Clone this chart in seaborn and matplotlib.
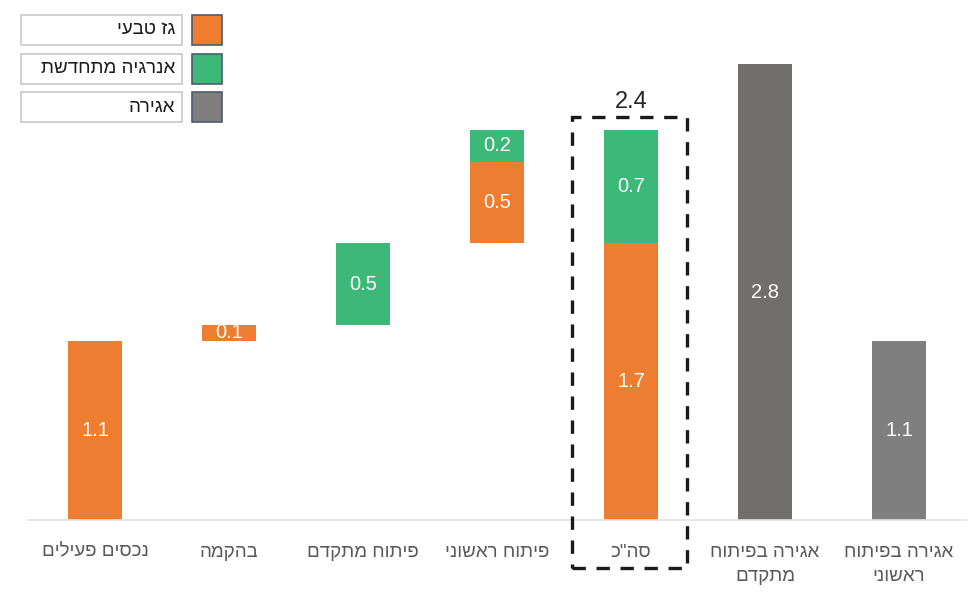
import matplotlib
matplotlib.use("Agg")
import matplotlib.pyplot as plt
from matplotlib.patches import Rectangle
import seaborn as sns

# --- data -------------------------------------------------------------
categories = [
    "נכסים פעילים",
    "בהקמה",
    "פיתוח מתקדם",
    "פיתוח ראשוני",
    'סה"כ',
    "אגירה בפיתוח\nמתקדם",
    "אגירה בפיתוח\nראשוני",
]
gas = [1.1, 0.1, 0.0, 0.5, 1.7, 0.0, 0.0]
renewable = [0.0, 0.0, 0.5, 0.2, 0.7, 0.0, 0.0]
storage = [0.0, 0.0, 0.0, 0.0, 0.0, 2.8, 1.1]
storage_colors = ["#716E6D", "#7F7F7F", "#7F7F7F", "#7F7F7F", "#7F7F7F", "#716E6D", "#7F7F7F"]
legend_labels = ["גז טבעי", "אנרגיה מתחדשת", "אגירה"]
total_label = "2.4"

ORANGE = "#ED7D31"
GREEN = "#3CB878"
GRAY = "#7F7F7F"
TOTAL_INDEX = 4
N_STEPS = 4


def rtl(text):
    """Reverse each line so Hebrew reads right-to-left."""
    return "\n".join(line[::-1] for line in text.split("\n"))


# --- segment table (category, bottom, height, colour) -----------------
segments = []
running = 0.0
for i in range(N_STEPS):
    if gas[i] > 0:
        segments.append((i, running, gas[i], ORANGE))
    if renewable[i] > 0:
        segments.append((i, running + gas[i], renewable[i], GREEN))
    running += gas[i] + renewable[i]
segments.append((TOTAL_INDEX, 0.0, gas[TOTAL_INDEX], ORANGE))
segments.append((TOTAL_INDEX, gas[TOTAL_INDEX], renewable[TOTAL_INDEX], GREEN))
for i, v in enumerate(storage):
    if v > 0:
        segments.append((i, 0.0, v, storage_colors[i]))

# --- figure -----------------------------------------------------------
sns.set_theme(style="white")
plt.rcParams["font.family"] = ["Liberation Sans", "DejaVu Sans"]

W, H = 978, 592
fig = plt.figure(figsize=(W / 100, H / 100), dpi=100)
ax = fig.add_axes([28 / W, (H - 520) / H, 938 / W, 505 / H])

order = list(range(len(categories)))
for idx, bottom, height, color in segments:
    sns.barplot(
        x=[idx], y=[height], order=order, color=color, width=0.4,
        errorbar=None, bottom=bottom, ax=ax, saturation=1,
        linewidth=0,
    )
    ax.text(idx, bottom + height / 2, f"{height:.1f}", ha="center",
            va="center", color="white", fontsize=14.5)

ax.set_xlim(-0.5, len(categories) - 0.5)
ax.set_ylim(0, 505 / 162.7)
ax.set_xticks(order)
ax.set_xticklabels([rtl(c) for c in categories], color="#595959",
                   fontsize=13.5, linespacing=1.55)
ax.tick_params(axis="x", length=0, pad=17)
ax.set_yticks([])
ax.set_xlabel("")
ax.set_ylabel("")
for side in ["top", "right", "left"]:
    ax.spines[side].set_visible(False)
ax.spines["bottom"].set_color("#E3E3E3")
ax.spines["bottom"].set_linewidth(1.2)

# dashed frame around the total column
fig.add_artist(Rectangle((572 / W, (H - 568) / H), 115 / W, 451 / H,
                         transform=fig.transFigure, fill=False,
                         edgecolor="#1a1a1a", linewidth=2.4,
                         linestyle=(0, (4, 3.2))))
fig.text(631 / W, (H - 102) / H, total_label, ha="center", va="center",
         fontsize=17, color="#262626")

# legend: text boxes with colour swatches on the right
legend_colors = [ORANGE, GREEN, GRAY]
for k, (lab, col) in enumerate(zip(legend_labels, legend_colors)):
    top = 15 + k * 38.5
    fig.add_artist(Rectangle((21 / W, (H - top - 30) / H), 161 / W, 30 / H,
                             transform=fig.transFigure, facecolor="white",
                             edgecolor="#C8C8C8", linewidth=1.2))
    fig.add_artist(Rectangle((192 / W, (H - top - 30) / H), 30 / W, 30 / H,
                             transform=fig.transFigure, facecolor=col,
                             edgecolor="#4F5B6E", linewidth=1.2))
    fig.text(175 / W, (H - top - 15) / H, rtl(lab), ha="right",
             va="center", fontsize=13.5, color="#1a1a1a")

fig.savefig("out.png", dpi=100)
